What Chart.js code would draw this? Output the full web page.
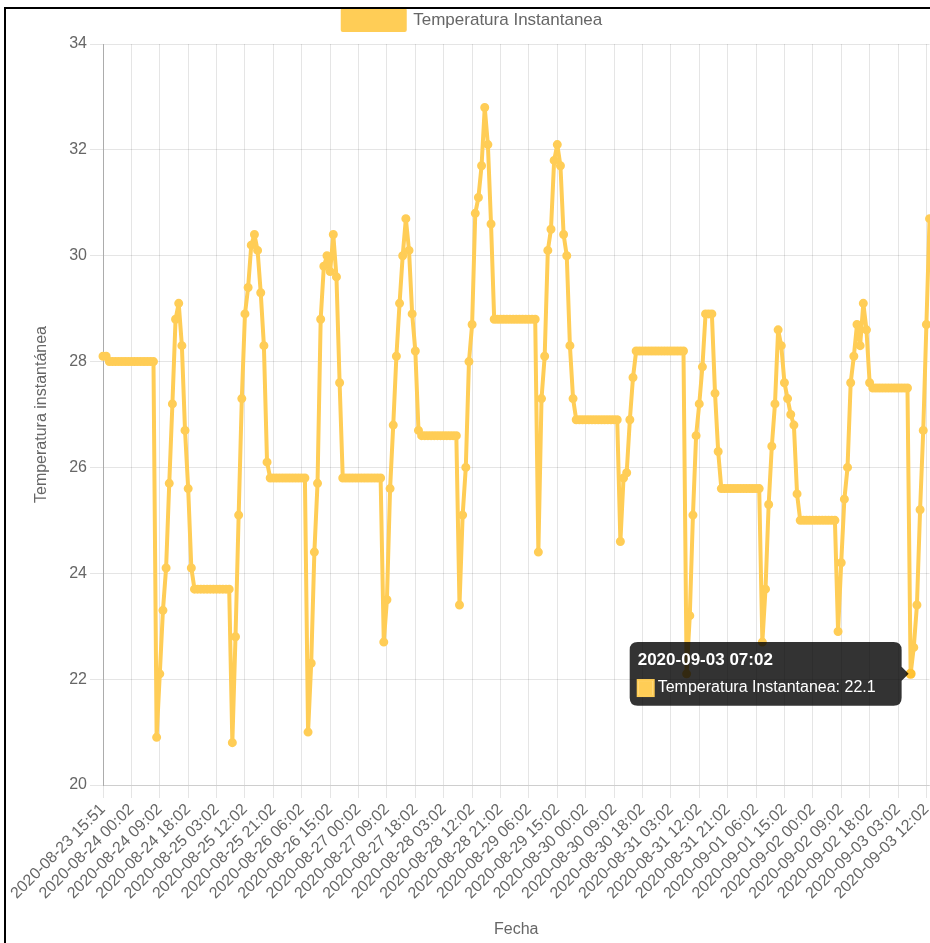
<!DOCTYPE html>
<html>
<head>
<meta charset="utf-8">
<title>Temperatura Instantanea</title>
<script src="https://cdn.jsdelivr.net/npm/chart.js@4.4.0/dist/chart.umd.min.js"></script>
<style>
    html, body { margin: 0; padding: 0; background: #fff; overflow: hidden; width: 930px; height: 943px; }
    #wrap { position: absolute; left: 0; top: 0; width: 942px; height: 943px; }
    .frame-top { position: absolute; left: 4px; top: 7px; width: 926px; height: 2px; background: #000; }
    .frame-left { position: absolute; left: 4px; top: 7px; width: 2px; height: 936px; background: #000; }
</style>
</head>
<body>
<div id="wrap"><canvas id="tempChart"></canvas></div>
<div class="frame-top"></div>
<div class="frame-left"></div>
<script>
// Hourly readings, first one at 15:51 then every hour at :02
let firstLabel = "2020-08-23 15:51";
let hourlyStart = Date.UTC(2020, 7, 23, 16, 2);

let temperatures = [
    28.1, 28.1,
    28.0, 28.0, 28.0, 28.0, 28.0, 28.0, 28.0, 28.0, 28.0, 28.0, 28.0, 28.0, 28.0, 28.0, 28.0,
    20.9, 22.1, 23.3, 24.1, 25.7, 27.2, 28.8, 29.1, 28.3, 26.7, 25.6, 24.1,
    23.7, 23.7, 23.7, 23.7, 23.7, 23.7, 23.7, 23.7, 23.7, 23.7, 23.7, 23.7,
    20.8, 22.8, 25.1, 27.3, 28.9, 29.4, 30.2, 30.4, 30.1, 29.3, 28.3, 26.1,
    25.8, 25.8, 25.8, 25.8, 25.8, 25.8, 25.8, 25.8, 25.8, 25.8, 25.8, 25.8,
    21.0, 22.3, 24.4, 25.7, 28.8, 29.8, 30.0, 29.7, 30.4, 29.6, 27.6,
    25.8, 25.8, 25.8, 25.8, 25.8, 25.8, 25.8, 25.8, 25.8, 25.8, 25.8, 25.8, 25.8,
    22.7, 23.5, 25.6, 26.8, 28.1, 29.1, 30.0, 30.7, 30.1, 28.9, 28.2, 26.7,
    26.6, 26.6, 26.6, 26.6, 26.6, 26.6, 26.6, 26.6, 26.6, 26.6, 26.6, 26.6,
    23.4, 25.1, 26.0, 28.0, 28.7, 30.8, 31.1, 31.7, 32.8, 32.1, 30.6,
    28.8, 28.8, 28.8, 28.8, 28.8, 28.8, 28.8, 28.8, 28.8, 28.8, 28.8, 28.8, 28.8, 28.8,
    24.4, 27.3, 28.1, 30.1, 30.5, 31.8, 32.1, 31.7, 30.4, 30.0, 28.3, 27.3,
    26.9, 26.9, 26.9, 26.9, 26.9, 26.9, 26.9, 26.9, 26.9, 26.9, 26.9, 26.9, 26.9, 26.9,
    24.6, 25.8, 25.9, 26.9, 27.7,
    28.2, 28.2, 28.2, 28.2, 28.2, 28.2, 28.2, 28.2, 28.2, 28.2, 28.2, 28.2, 28.2, 28.2, 28.2, 28.2,
    22.1, 23.2, 25.1, 26.6, 27.2, 27.9, 28.9, 28.9, 28.9, 27.4, 26.3,
    25.6, 25.6, 25.6, 25.6, 25.6, 25.6, 25.6, 25.6, 25.6, 25.6, 25.6, 25.6, 25.6,
    22.7, 23.7, 25.3, 26.4, 27.2, 28.6, 28.3, 27.6, 27.3, 27.0, 26.8, 25.5,
    25.0, 25.0, 25.0, 25.0, 25.0, 25.0, 25.0, 25.0, 25.0, 25.0, 25.0, 25.0,
    22.9, 24.2, 25.4, 26.0, 27.6, 28.1, 28.7, 28.3, 29.1, 28.6, 27.6,
    27.5, 27.5, 27.5, 27.5, 27.5, 27.5, 27.5, 27.5, 27.5, 27.5, 27.5, 27.5,
    22.1, 22.6, 23.4, 25.2, 26.7, 28.7, 30.7
];

let yTicks = [20, 22, 24, 26, 28, 30, 32, 34];
let labelEvery = 9; // one date label every 9 hours
let tooltipLabel = "2020-09-03 07:02";

function pad(n) {
    return n < 10 ? "0" + n : "" + n;
}

function formatFecha(ms) {
    let d = new Date(ms);
    return d.getUTCFullYear() + "-" + pad(d.getUTCMonth() + 1) + "-" + pad(d.getUTCDate()) +
        " " + pad(d.getUTCHours()) + ":" + pad(d.getUTCMinutes());
}

let fechas = [firstLabel];
for (let i = 1; i < temperatures.length; i++) {
    fechas.push(formatFecha(hourlyStart + (i - 1) * 3600000));
}

Chart.defaults.font.family = "Arial, 'Liberation Sans', sans-serif";
Chart.defaults.font.size = 16;
Chart.defaults.color = "#666";

let yellow = "rgb(255, 205, 86)";

// give the legend a little more room under it
let legendGap = {
    id: "legendGap",
    beforeInit(chart) {
        if (!chart.legend) return;
        let fit = chart.legend.fit;
        chart.legend.fit = function () {
            fit.call(this);
            this.height += 4;
        };
    }
};

let ctx = document.getElementById("tempChart").getContext("2d");
let myChart = new Chart(ctx, {
    type: "line",
    data: {
        labels: fechas,
        datasets: [{
            label: "Temperatura Instantanea",
            data: temperatures,
            borderColor: yellow,
            backgroundColor: yellow,
            borderWidth: 4,
            borderJoinStyle: "round",
            pointRadius: 3.5,
            pointBorderWidth: 2,
            pointHoverRadius: 4,
            pointHoverBorderWidth: 2,
            tension: 0,
            fill: false
        }]
    },
    plugins: [legendGap],
    options: {
        responsive: true,
        maintainAspectRatio: false,
        animation: false,
        layout: {
            padding: { left: 4, right: 1, top: 0, bottom: 0 }
        },
        plugins: {
            legend: {
                labels: {
                    boxWidth: 62,
                    boxHeight: 20,
                    padding: 10,
                    font: { size: 17 }
                }
            },
            tooltip: {
                backgroundColor: "rgba(0, 0, 0, 0.8)",
                titleFont: { size: 17, weight: "bold" },
                bodyFont: { size: 16 },
                padding: { left: 8, right: 26, top: 8, bottom: 8 },
                caretSize: 7,
                caretPadding: 2,
                cornerRadius: 8,
                titleMarginBottom: 8,
                boxPadding: 2
            }
        },
        scales: {
            x: {
                title: { display: true, text: "Fecha", font: { size: 16 } },
                grid: { color: "rgba(0, 0, 0, 0.1)", tickLength: 13 },
                border: { color: "rgba(0, 0, 0, 0.1)" },
                ticks: {
                    autoSkip: false,
                    minRotation: 45,
                    maxRotation: 45,
                    padding: 2,
                    callback: function (value, index) {
                        return index % labelEvery === 0 ? fechas[index] : null;
                    }
                },
                afterFit: function (scale) {
                    scale.height = 158;
                }
            },
            y: {
                min: yTicks[0],
                max: yTicks[yTicks.length - 1],
                title: {
                    display: true,
                    text: "Temperatura instantánea",
                    font: { size: 16 },
                    padding: { top: 28, bottom: 4 }
                },
                grid: { color: "rgba(0, 0, 0, 0.1)", tickLength: 13 },
                border: { color: "rgba(0, 0, 0, 0.25)" },
                ticks: { stepSize: 2, padding: 3 },
                afterFit: function (scale) {
                    scale.width = 99;
                }
            }
        }
    }
});

// keep the tooltip open on one reading
let activePoint = [{ datasetIndex: 0, index: fechas.indexOf(tooltipLabel) }];
myChart.setActiveElements(activePoint);
myChart.tooltip.setActiveElements(activePoint, { x: 0, y: 0 });
myChart.update();
</script>
</body>
</html>
